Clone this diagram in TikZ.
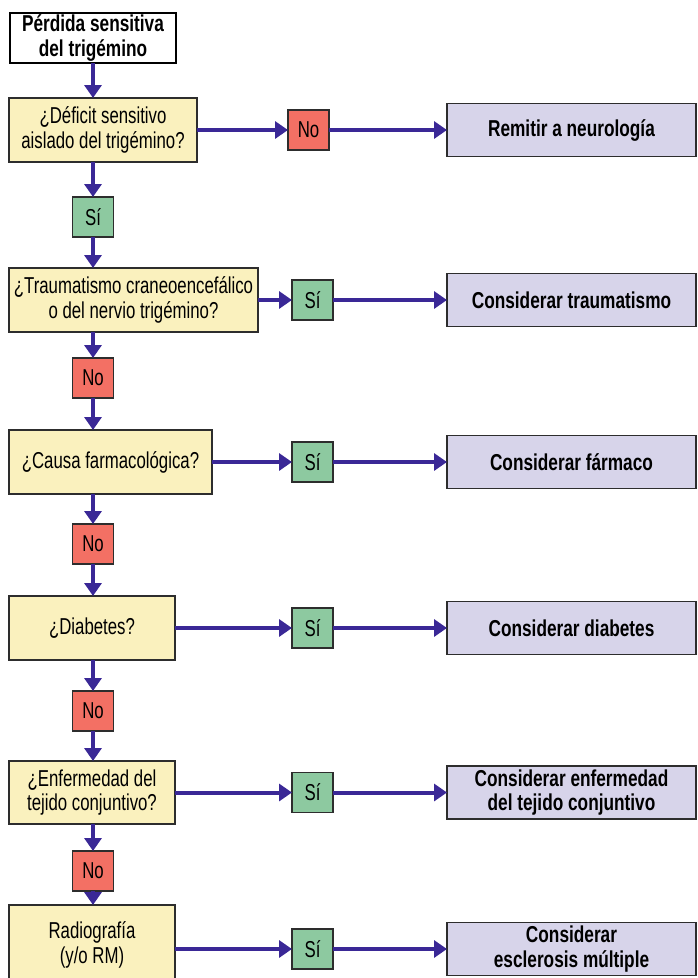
\documentclass[tikz,border=0pt]{standalone}
\usepackage{fontspec}
\setmainfont{Liberation Sans}[FakeStretch=0.73, BoldFeatures={FakeStretch=0.75}]
\usetikzlibrary{arrows.meta}
\definecolor{qfill}{RGB}{250,241,190}
\definecolor{nofill}{RGB}{243,112,100}
\definecolor{yesfill}{RGB}{141,201,160}
\definecolor{endfill}{RGB}{215,212,234}
\definecolor{flow}{RGB}{58,40,150}
\definecolor{edge}{RGB}{45,45,45}
\tikzset{
  box/.style={draw=edge, line width=1.5pt, inner sep=0pt, outer sep=0pt,
    anchor=north west, align=center, font=\fontsize{23}{24.5}\selectfont},
  startbox/.style={box, fill=white, draw=black, line width=2pt, font=\fontsize{23}{24.5}\selectfont\bfseries},
  qbox/.style={box, fill=qfill},
  nobox/.style={box, fill=nofill, minimum width=41pt, minimum height=40pt},
  yesbox/.style={box, fill=yesfill, minimum width=41pt, minimum height=40pt},
  endbox/.style={box, fill=endfill, minimum width=249pt, minimum height=53pt,
    font=\fontsize{23}{24.5}\selectfont\bfseries},
  arr/.style={draw=flow, line width=4pt, -{Triangle[length=13pt,width=17pt]}}
}
\begin{document}
\begin{tikzpicture}[x=1pt,y=-1pt]
\useasboundingbox (0,0) rectangle (697,978);

% start
\node[startbox, minimum width=166pt, minimum height=50pt] (start) at (10,13) {Pérdida sensitiva\\del trigémino};

% question column
\node[qbox, minimum width=188pt, minimum height=64pt] (q1) at (9,98) {¿Déficit sensitivo\\aislado del trigémino?};
\node[yesbox] (v1) at (72.5,197) {Sí};
\node[qbox, minimum width=249pt, minimum height=64pt] (q2) at (9,268) {¿Traumatismo craneoencefálico\\o del nervio trigémino?};
\node[nobox] (v2) at (72.5,358) {No};
\node[qbox, minimum width=203pt, minimum height=64pt] (q3) at (9,430) {¿Causa farmacológica?};
\node[nobox] (v3) at (72.5,524) {No};
\node[qbox, minimum width=166pt, minimum height=64pt] (q4) at (9,596) {¿Diabetes?};
\node[nobox] (v4) at (72.5,691) {No};
\node[qbox, minimum width=166pt, minimum height=63pt] (q5) at (9,761) {¿Enfermedad del\\tejido conjuntivo?};
\node[nobox] (v5) at (72.5,851) {No};
\node[qbox, minimum width=166pt, minimum height=80pt] (q6) at (9,905) {Radiografía\\(y/o RM)};

% side answers
\node[nobox] (s1) at (288,110) {No};
\node[yesbox] (s2) at (292,280) {Sí};
\node[yesbox] (s3) at (292,442) {Sí};
\node[yesbox] (s4) at (292,608) {Sí};
\node[yesbox] (s5) at (292,772.5) {Sí};
\node[yesbox] (s6) at (292,929) {Sí};

% outcomes
\node[endbox] (e1) at (447,103.5) {Remitir a neurología};
\node[endbox] (e2) at (447,273.5) {Considerar traumatismo};
\node[endbox] (e3) at (447,435.5) {Considerar fármaco};
\node[endbox] (e4) at (447,601.5) {Considerar diabetes};
\node[endbox] (e5) at (447,766) {Considerar enfermedad\\del tejido conjuntivo};
\node[endbox] (e6) at (447,922.5) {Considerar\\esclerosis múltiple};

% vertical flow
\coordinate (cx) at (93,0);
\draw[arr] (cx |- start.south) -- (cx |- q1.north);
\draw[arr] (cx |- q1.south) -- (cx |- v1.north);
\draw[arr] (cx |- v1.south) -- (cx |- q2.north);
\draw[arr] (cx |- q2.south) -- (cx |- v2.north);
\draw[arr] (cx |- v2.south) -- (cx |- q3.north);
\draw[arr] (cx |- q3.south) -- (cx |- v3.north);
\draw[arr] (cx |- v3.south) -- (cx |- q4.north);
\draw[arr] (cx |- q4.south) -- (cx |- v4.north);
\draw[arr] (cx |- v4.south) -- (cx |- q5.north);
\draw[arr] (cx |- q5.south) -- (cx |- v5.north);
\draw[arr] (cx |- v5.south) -- (cx |- q6.north);

% horizontal flow
\foreach \i in {1,...,6} {
  \draw[arr] (q\i.east |- s\i.west) -- (s\i.west);
  \draw[arr] (s\i.east) -- (e\i.west |- s\i.east);
}
\end{tikzpicture}
\end{document}
